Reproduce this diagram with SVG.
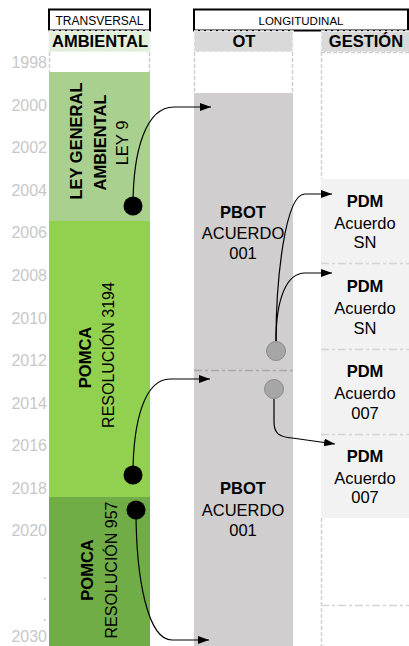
<svg xmlns="http://www.w3.org/2000/svg" width="409" height="646" viewBox="0 0 409 646">
  <style>
    .yr { font-family: "Liberation Sans", Arial, sans-serif; font-size: 16px; fill: #c8c8c8; text-anchor: end; }
    .t { font-family: "Liberation Sans", Arial, sans-serif; font-size: 16.5px; fill: #000; text-anchor: middle; }
    .b { font-weight: bold; }
    .sm { font-family: "Liberation Sans", Arial, sans-serif; font-size: 12px; fill: #000; text-anchor: middle; }
    .frame { fill: #fff; stroke: #000; stroke-width: 2; }
    .dash { fill: none; stroke: #d0d0d0; stroke-width: 1.5; stroke-dasharray: 4 2; }
    .dashw { fill: none; stroke: #f4f4f4; stroke-width: 1.5; stroke-dasharray: 4 2; }
    .dd { fill: none; stroke: #d4d4d4; stroke-width: 1.5; stroke-dasharray: 8 3 3 3; }
    .ddk { fill: none; stroke: #a8a8a8; stroke-width: 1.5; stroke-dasharray: 8 3 3 3; }
    .conn { fill: none; stroke: #000; stroke-width: 1.2; }
    .dot { fill: #000; }
    .gdot { fill: #a6a6a6; stroke: #8c8c8c; stroke-width: 1; }
  </style>
  <defs>
    <marker id="arrow" markerUnits="userSpaceOnUse" markerWidth="11" markerHeight="8" viewBox="0 0 11 8" refX="11" refY="4" orient="auto">
      <path d="M0,0 L11,4 L0,8 z" fill="#000"/>
    </marker>
  </defs>

  <!-- year axis -->
  <g id="years">
    <text class="yr" x="47" y="68">1998</text>
    <text class="yr" x="47" y="111">2000</text>
    <text class="yr" x="47" y="153">2002</text>
    <text class="yr" x="47" y="196">2004</text>
    <text class="yr" x="47" y="238">2006</text>
    <text class="yr" x="47" y="281">2008</text>
    <text class="yr" x="47" y="324">2010</text>
    <text class="yr" x="47" y="366">2012</text>
    <text class="yr" x="47" y="409">2014</text>
    <text class="yr" x="47" y="451">2016</text>
    <text class="yr" x="47" y="494">2018</text>
    <text class="yr" x="47" y="536">2020</text>
    <text class="yr" x="47" y="579">.</text>
    <text class="yr" x="47" y="600">.</text>
    <text class="yr" x="47" y="621">.</text>
    <text class="yr" x="47" y="642">2030</text>
  </g>

  <!-- group headers -->
  <g id="hdr-transversal">
    <rect class="frame" x="49" y="9.5" width="101" height="21"/>
    <text class="sm" x="99.5" y="24.5" font-size="12">TRANSVERSAL</text>
  </g>
  <g id="hdr-longitudinal">
    <rect class="frame" x="194" y="9.5" width="214" height="21"/>
    <text class="sm" x="301" y="24.5" style="font-size:11.5px">LONGITUDINAL</text>
  </g>

  <!-- column: AMBIENTAL -->
  <g id="col-ambiental">
    <rect x="49" y="31" width="101" height="21" fill="#e2efda"/>
    <rect class="dashw" x="49" y="31" width="101" height="21"/>
    <text class="t b" x="100" y="46.5">AMBIENTAL</text>
    <rect x="49" y="52" width="101" height="20" fill="#fff"/>
    <path class="dash" d="M49.5,52 V72 M149.5,52 V72"/>
  </g>
  <g id="ley9">
    <rect x="49" y="72" width="101" height="149" fill="#a9d08e"/>
    <text class="t b" transform="translate(82,141) rotate(-90)">LEY GENERAL</text>
    <text class="t b" transform="translate(106,142.5) rotate(-90)">AMBIENTAL</text>
    <text class="t" transform="translate(128,143) rotate(-90)">LEY 9</text>
  </g>
  <g id="pomca-3194">
    <rect x="49" y="221" width="101" height="276" fill="#92d050"/>
    <text class="t b" transform="translate(91,357.5) rotate(-90)">POMCA</text>
    <text class="t" transform="translate(113.5,355) rotate(-90)" style="font-size:16px">RESOLUCIÓN 3194</text>
  </g>
  <g id="pomca-957">
    <rect x="49" y="497" width="101" height="149" fill="#70ad47"/>
    <text class="t b" transform="translate(93,570) rotate(-90)">POMCA</text>
    <text class="t" transform="translate(117,570) rotate(-90)" style="font-size:16px">RESOLUCIÓN 957</text>
  </g>

  <!-- column: OT -->
  <g id="col-ot">
    <rect x="194" y="31" width="99" height="21" fill="#d9d9d9"/>
    <rect class="dashw" x="194" y="31" width="99" height="21"/>
    <text class="t b" x="244" y="46.5">OT</text>
    <rect x="194" y="52" width="99" height="41" fill="#fff"/>
    <path class="dash" d="M194.5,52 V93 M292.5,52 V93"/>
  </g>
  <g id="pbot-1">
    <rect x="194" y="93" width="99" height="278" fill="#d0cece"/>
    <text class="t b" x="243" y="217.5">PBOT</text>
    <text class="t" x="243" y="239">ACUERDO</text>
    <text class="t" x="243" y="259">001</text>
  </g>
  <g id="pbot-2">
    <rect x="194" y="371" width="99" height="275" fill="#d0cece"/>
    <path class="ddk" d="M194,370.5 H293"/>
    <text class="t b" x="243" y="494">PBOT</text>
    <text class="t" x="243" y="516">ACUERDO</text>
    <text class="t" x="243" y="536">001</text>
  </g>

  <!-- column: GESTIÓN -->
  <g id="col-gestion">
    <rect x="321" y="31" width="88" height="21" fill="#d9d9d9"/>
    <rect class="dashw" x="321" y="31" width="90" height="21"/>
    <text class="t b" x="366" y="46.5">GESTIÓN</text>
    <path class="dash" d="M321.5,52 V179 M321.5,518 V646 M321,52.5 H409"/>
    <path class="dd" d="M321,605.5 H409"/>
  </g>
  <g id="pdm-1">
    <rect x="321" y="179" width="88" height="84" fill="#f2f2f2"/>
    <text class="t b" x="365" y="207">PDM</text>
    <text class="t" x="365" y="229">Acuerdo</text>
    <text class="t" x="365" y="248">SN</text>
  </g>
  <g id="pdm-2">
    <rect x="321" y="263" width="88" height="86" fill="#f2f2f2"/>
    <path class="dd" d="M321,263.5 H409"/>
    <text class="t b" x="365" y="292">PDM</text>
    <text class="t" x="365" y="314">Acuerdo</text>
    <text class="t" x="365" y="334">SN</text>
  </g>
  <g id="pdm-3">
    <rect x="321" y="349" width="88" height="85" fill="#f2f2f2"/>
    <path class="dd" d="M321,349.5 H409"/>
    <text class="t b" x="365" y="377">PDM</text>
    <text class="t" x="365" y="399">Acuerdo</text>
    <text class="t" x="365" y="419">007</text>
  </g>
  <g id="pdm-4">
    <rect x="321" y="434" width="88" height="84" fill="#f2f2f2"/>
    <path class="dd" d="M321,434.5 H409"/>
    <text class="t b" x="365" y="462">PDM</text>
    <text class="t" x="365" y="484">Acuerdo</text>
    <text class="t" x="365" y="503">007</text>
  </g>

  <!-- connectors -->
  <g id="connectors">
    <path class="conn" marker-end="url(#arrow)" d="M133,206 C133,150 146,107 174,107 L211,107"/>
    <path class="conn" marker-end="url(#arrow)" d="M133,475 C133,420 145,379 170,379 L210,379"/>
    <path class="conn" marker-end="url(#arrow)" d="M136,510 C136,580 148,640 172,640 L209,640"/>
    <path class="conn" marker-end="url(#arrow)" d="M276,341 C276,280 285,194 305,194 L332,194"/>
    <path class="conn" marker-end="url(#arrow)" d="M276,341 C276,300 286,273 305,273 L332,273"/>
    <path class="conn" marker-end="url(#arrow)" d="M274,399 L274,422 C274,434 280,437 292,438 L335,444"/>
    <circle class="dot" cx="133" cy="206" r="9.5"/>
    <circle class="dot" cx="133" cy="475" r="9.5"/>
    <circle class="dot" cx="136" cy="510" r="9.5"/>
    <circle class="gdot" cx="276" cy="351" r="9.5"/>
    <circle class="gdot" cx="274" cy="389" r="9.5"/>
  </g>
</svg>
